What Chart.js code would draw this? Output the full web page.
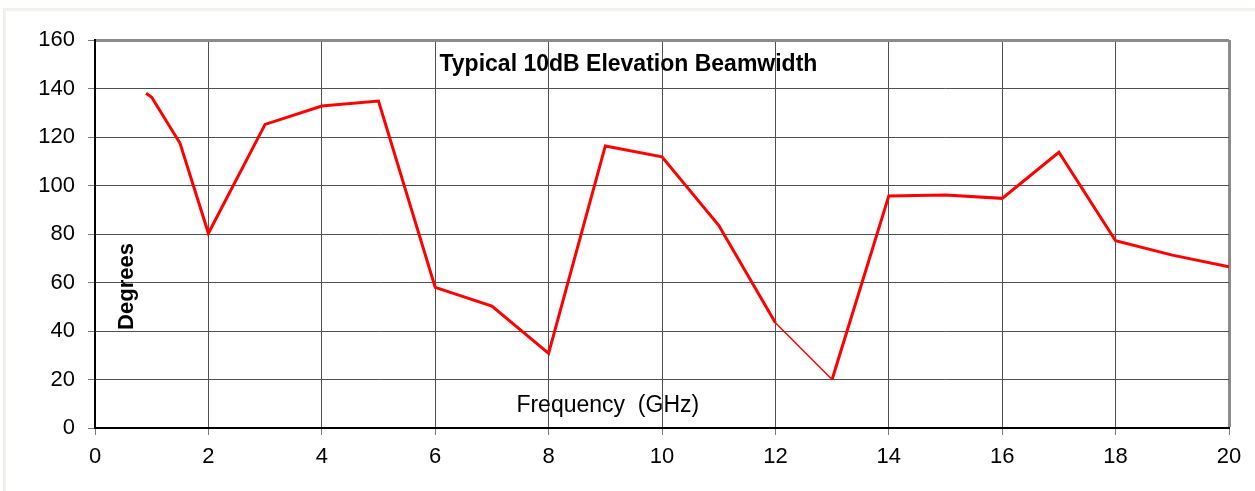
<!DOCTYPE html>
<html>
<head>
<meta charset="utf-8">
<script src="https://cdn.jsdelivr.net/npm/chart.js@4.4.0/dist/chart.umd.min.js"></script>
<style>
html,body{margin:0;padding:0;background:#fff;}
#wrap{position:relative;width:1255px;height:491px;overflow:hidden;background:#fff;}
canvas{position:absolute;left:0;top:0;}
#fl{position:absolute;left:3px;top:8px;width:3px;height:483px;background:#edf2eb;}
#ft{position:absolute;left:3px;top:8px;width:1252px;height:3px;background:#edf2eb;}
</style>
</head>
<body>
<div id="wrap">
  <canvas id="c" width="1255" height="491"></canvas>
  <div id="fl"></div><div id="ft"></div>
</div>
<script>
// ---- data ----
const FREQ = [0.9, 1, 1.5, 2, 3, 4, 5, 6, 7, 8, 9, 10, 11, 12, 13, 14, 15, 16, 17, 18, 19, 20];
const DEG  = [138, 136.4, 117.4, 80.3, 125.2, 132.8, 134.8, 58, 50.3, 30.8, 116.3, 111.8, 83.6, 43.4, 20, 95.7, 96.1, 94.7, 113.7, 77.2, 71.3, 66.5];
const X_TICKS = [0, 2, 4, 6, 8, 10, 12, 14, 16, 18, 20];
const Y_TICKS = [0, 20, 40, 60, 80, 100, 120, 140, 160];
const TITLE = 'Typical 10dB Elevation Beamwidth';
const X_LABEL = 'Frequency  (GHz)';
const Y_LABEL = 'Degrees';

const FONT = '"Liberation Sans", Arial, Helvetica, sans-serif';

const textPlugin = {
  id: 'texts',
  afterDraw(chart) {
    const ctx = chart.ctx;
    const a = chart.chartArea;
    const w = a.right - a.left, h = a.bottom - a.top;
    ctx.save();
    ctx.fillStyle = '#000';
    ctx.textBaseline = 'alphabetic';
    ctx.textAlign = 'center';
    ctx.font = 'bold 23px ' + FONT;
    ctx.fillText(TITLE, a.left + w * 0.4704, a.top + h * 0.08);
    ctx.font = '23px ' + FONT;
    ctx.fillText(X_LABEL, a.left + w * 0.4522, a.top + h * 0.958);
    ctx.translate(a.left + 38, a.top + h * 0.6353);
    ctx.rotate(-Math.PI / 2);
    ctx.font = 'bold 22px ' + FONT;
    ctx.fillText(Y_LABEL, 0, 0);
    ctx.restore();
  }
};

const edgeColor = '#8c8c8c';
const gridColor = '#505050';

new Chart(document.getElementById('c'), {
  type: 'line',
  data: {
    datasets: [{
      data: FREQ.map((f, i) => ({ x: f, y: DEG[i] })),
      borderColor: '#ff0000',
      borderWidth: 3,
      pointRadius: 0,
      tension: 0,
      fill: false,
      segment: {
        borderWidth: ctx => (FREQ[ctx.p0DataIndex] === 12 ? 1.5 : 3)
      }
    }]
  },
  options: {
    responsive: false,
    animation: false,
    devicePixelRatio: 1,
    layout: { padding: { top: 40, right: 26, left: 0, bottom: 0 } },
    plugins: { legend: { display: false }, tooltip: { enabled: false }, title: { display: false } },
    scales: {
      x: {
        type: 'linear',
        min: 0, max: 20,
        afterBuildTicks: s => { s.ticks = X_TICKS.map(v => ({ value: v })); },
        afterFit: s => { s.height = 63; },
        ticks: { font: { family: FONT, size: 22 }, color: '#000', padding: 9, maxRotation: 0, autoSkip: false },
        grid: {
          color: c => (c.tick && c.tick.value === 20 ? edgeColor : gridColor),
          lineWidth: c => (c.tick && c.tick.value === 20 ? 3 : 1),
          tickLength: 7, tickColor: '#777', tickWidth: 1, drawTicks: true
        },
        border: { color: '#000', width: 2 }
      },
      y: {
        type: 'linear',
        min: 0, max: 160,
        afterBuildTicks: s => { s.ticks = Y_TICKS.map(v => ({ value: v })); },
        afterFit: s => { s.width = 95; },
        ticks: { font: { family: FONT, size: 22 }, color: '#000', padding: 13, autoSkip: false },
        grid: {
          color: c => (c.tick && c.tick.value === 160 ? edgeColor : gridColor),
          lineWidth: c => (c.tick && c.tick.value === 160 ? 3 : 1),
          tickLength: 7, tickColor: '#777', tickWidth: 1, drawTicks: true
        },
        border: { color: '#000', width: 2 }
      }
    }
  },
  plugins: [textPlugin]
});
</script>
</body>
</html>
